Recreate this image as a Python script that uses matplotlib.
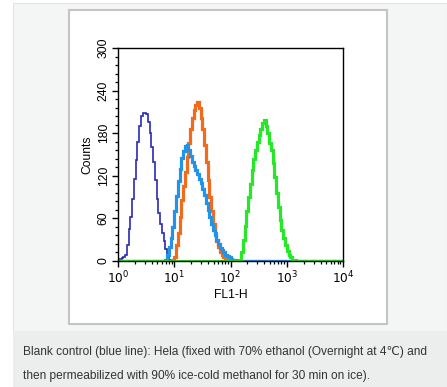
import numpy as np
import matplotlib
matplotlib.use("Agg")
import matplotlib.pyplot as plt
from matplotlib.patches import Rectangle
from matplotlib.ticker import FixedLocator, MultipleLocator, NullFormatter

# ---- data: histogram counts on log bins (1/32 decade), FL1-H from 10^0 to 10^4 ----
bins_per_decade = 32
n_bins = 128

blank_start = 0
blank_counts = [3, 3, 4, 5, 8, 22, 45, 62, 88, 115, 142, 168, 190, 204, 208, 209,
                207, 196, 180, 160, 140, 114, 88, 68, 52, 40, 28, 17, 8, 2]

lightblue_start = 27
lightblue_counts = [2, 8, 20, 32, 48, 70, 92, 112, 130, 145, 155, 162, 163, 156, 148,
                    140, 134, 128, 122, 116, 110, 102, 93, 82, 72, 62, 52, 43, 36, 29,
                    24, 19, 15, 12, 9, 7, 5, 3, 2, 1]

orange_start = 31
orange_counts = [1, 6, 22, 40, 62, 86, 106, 126, 146, 166, 186, 202, 212, 220, 224,
                 216, 202, 186, 164, 140, 114, 90, 70, 52, 40, 28, 20, 13, 8, 5, 3, 1]

green_start = 69
green_counts = [2, 12, 30, 50, 70, 90, 108, 128, 143, 156, 168, 178, 186, 194, 198,
                190, 180, 166, 156, 138, 118, 96, 76, 58, 44, 32, 22, 14, 9, 5, 2, 1]

y_ticks = [0, 60, 120, 180, 240, 300]
x_ticks = [1, 10, 100, 1000, 10000]
x_tick_labels = ["$10^0$", "$10^1$", "$10^2$", "$10^3$", "$10^4$"]
caption_lines = [
    "Blank control (blue line): Hela (fixed with 70% ethanol (Overnight at 4\u2103) and",
    "then permeabilized with 90% ice-cold methanol for 30 min on ice).",
]

W, H = 447, 387
fig = plt.figure(figsize=(W / 100, H / 100), dpi=100)
fig.patch.set_facecolor("white")

def px_rect(x0, y0, x1, y1, **kw):
    r = Rectangle((x0 / W, 1 - y1 / H), (x1 - x0) / W, (y1 - y0) / H,
                  transform=fig.transFigure, zorder=-5, **kw)
    fig.patches.append(r)

# page background
px_rect(13, 3, 447, 331, facecolor="#f4f5f5", edgecolor="#e2e4e4", linewidth=0.8)
px_rect(13, 331, 447, 387, facecolor="#eceeee", edgecolor="none")
# white image panel
px_rect(69, 10, 387, 324, facecolor="white", edgecolor="#c4c4c4", linewidth=1.5)

ax = fig.add_axes([118 / W, 1 - 261 / H, 225 / W, 213 / H])
ax.set_zorder(2)
ax.set_facecolor("white")

edges = 10 ** (np.arange(n_bins + 1) / bins_per_decade)

def full(start, counts):
    arr = np.zeros(n_bins)
    arr[start:start + len(counts)] = counts
    return arr

series = [
    (full(blank_start, blank_counts), "#2a2ab4", 1.2),
    (full(orange_start, orange_counts), "#f26a1b", 2.3),
    (full(lightblue_start, lightblue_counts), "#2293e6", 2.3),
    (full(green_start, green_counts), "#28e628", 2.3),
]
for vals, col, lw in series:
    ax.stairs(vals, edges, color=col, linewidth=lw, baseline=None)

ax.set_xscale("log")
ax.set_xlim(1, 10000)
ax.set_ylim(0, 300)

ax.xaxis.set_major_locator(FixedLocator(x_ticks))
ax.set_xticklabels(x_tick_labels)
minor = [m * 10 ** d for d in range(4) for m in range(2, 10)]
ax.xaxis.set_minor_locator(FixedLocator(minor))
ax.xaxis.set_minor_formatter(NullFormatter())

ax.yaxis.set_major_locator(FixedLocator(y_ticks))
ax.set_yticklabels([str(v) for v in y_ticks], rotation=90, va="center")
ax.yaxis.set_minor_locator(MultipleLocator(12))

for sp in ax.spines.values():
    sp.set_color("black")
    sp.set_linewidth(1.0)

ax.tick_params(axis="both", which="major", direction="out", length=4, width=1,
               labelsize=8.7, colors="black")
ax.tick_params(axis="both", which="minor", direction="out", length=2.2, width=0.9)
ax.tick_params(axis="x", which="major", pad=2.5)
ax.tick_params(axis="y", which="major", pad=2)
for lab in ax.get_xticklabels() + ax.get_yticklabels():
    lab.set_family(["Liberation Sans", "DejaVu Sans"])

ax.set_ylabel("Counts", fontsize=8.7, family=["Liberation Sans", "DejaVu Sans"], labelpad=3)
ax.set_xlabel("FL1-H", fontsize=8.7, family=["Liberation Sans", "DejaVu Sans"], labelpad=1.5)

for i, line in enumerate(caption_lines):
    fig.text(23 / W, 1 - (352 + 24 * i) / H, line, fontsize=8.55, color="#333333",
             family=["Liberation Sans", "DejaVu Sans"], va="center", ha="left")

fig.savefig("out.png", dpi=100, facecolor=fig.get_facecolor())
